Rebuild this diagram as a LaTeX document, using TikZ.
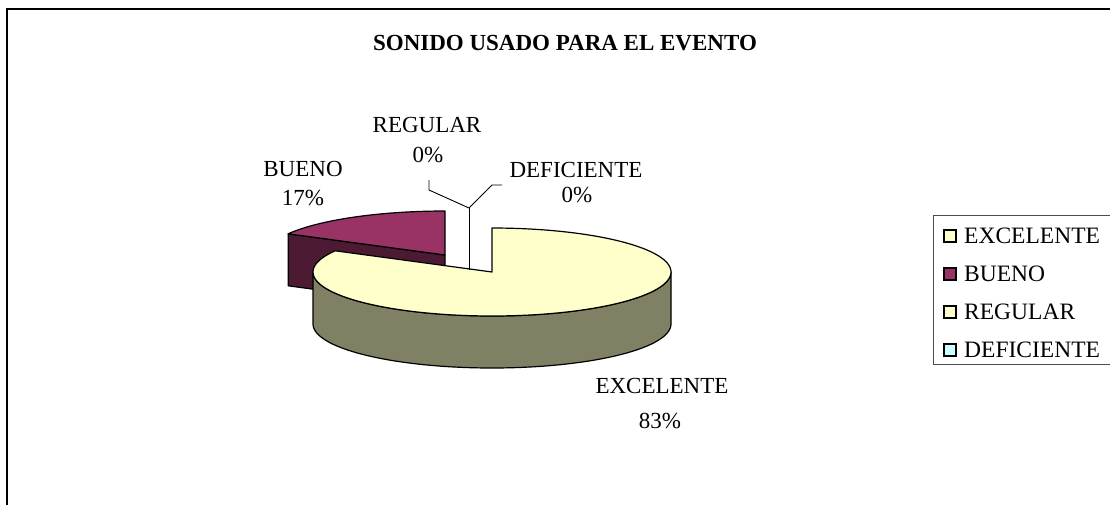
\documentclass[tikz,border=0pt]{standalone}
\usepackage{fontspec}
\setmainfont{Liberation Serif}
\definecolor{exTop}{HTML}{FFFFCC}
\definecolor{exSide}{RGB}{128,128,100}
\definecolor{buTop}{HTML}{993366}
\definecolor{buSide}{RGB}{77,26,51}
\definecolor{reg}{HTML}{FFFFCC}
\definecolor{def}{HTML}{CCFFFF}
\tikzset{
  pieline/.style={draw=black,line width=1.2pt,line join=round},
  lbl/.style={font=\fontsize{23}{25}\selectfont,inner sep=0pt,anchor=center},
  legsq/.style={draw=black,line width=1.2pt,minimum width=12pt,minimum height=12pt,inner sep=0pt},
  legtxt/.style={font=\fontsize{23.5}{25}\selectfont,inner sep=0pt,anchor=west},
  leader/.style={draw=black,line width=0.9pt}
}
\begin{document}
\begin{tikzpicture}[x=1pt,y=-1pt]
\useasboundingbox (0,0) rectangle (1110,504);
\clip (0,0) rectangle (1110,504);
% outer frame
\draw[line width=1.3pt,black] (7,9) rectangle (1120,520);
% title
\node[font=\fontsize{23}{26}\selectfont\bfseries,inner sep=0pt] (title) at (565,43) {SONIDO USADO PARA EL EVENTO};
% BUENO slice (exploded), center (445,255)
\fill[buSide,pieline] (445,255) -- ({445+179*cos(151.2)},{255-44*sin(151.2)}) -- ({445+179*cos(151.2)},{307-44*sin(151.2)}) -- (445,307) -- cycle;
\fill[buTop,pieline] (445,255) -- plot[domain=90:151.2,samples=40] ({445+179*cos(\x)},{255-44*sin(\x)}) -- cycle;
% EXCELENTE slice, center (492,272)
\fill[exSide,pieline] plot[domain=180:360,samples=80] ({492+179*cos(\x)},{272-44*sin(\x)}) -- plot[domain=360:180,samples=80] ({492+179*cos(\x)},{324-44*sin(\x)}) -- cycle;
\fill[exTop,pieline] (492,272) -- plot[domain=-208.8:90,samples=120] ({492+179*cos(\x)},{272-44*sin(\x)}) -- cycle;
% leader lines for zero slices
\coordinate (base) at (469,270);
\coordinate (fork) at (469,208);
\coordinate (regK) at (429,190);
\coordinate (regE) at (429,180);
\coordinate (defK) at (492,185);
\coordinate (defE) at (502,185);
\draw[leader] (base) -- (fork);
\draw[leader] (fork) -- (regK) -- (regE);
\draw[leader] (fork) -- (defK) -- (defE);
% data labels
\node[lbl] (lBu) at (303,169) {BUENO};
\node[lbl] (lBuP) at (303,198) {17\%};
\node[lbl] (lRe) at (427,125) {REGULAR};
\node[lbl] (lReP) at (428,155) {0\%};
\node[lbl] (lDe) at (576,170) {DEFICIENTE};
\node[lbl] (lDeP) at (577,195) {0\%};
\node[lbl] (lEx) at (662,386) {EXCELENTE};
\node[lbl] (lExP) at (660,421) {83\%};
% legend
\draw[draw=black!70,line width=0.9pt] (933,215) rectangle (1120,364);
\node[legsq,fill=exTop] (s1) at (950,236) {};
\node[legsq,fill=buTop] (s2) at (950,274) {};
\node[legsq,fill=reg] (s3) at (950,312) {};
\node[legsq,fill=def] (s4) at (950,350) {};
\node[legtxt] (t1) at (964,236) {EXCELENTE};
\node[legtxt] (t2) at (964,274) {BUENO};
\node[legtxt] (t3) at (964,312) {REGULAR};
\node[legtxt] (t4) at (964,350) {DEFICIENTE};
\end{tikzpicture}
\end{document}
